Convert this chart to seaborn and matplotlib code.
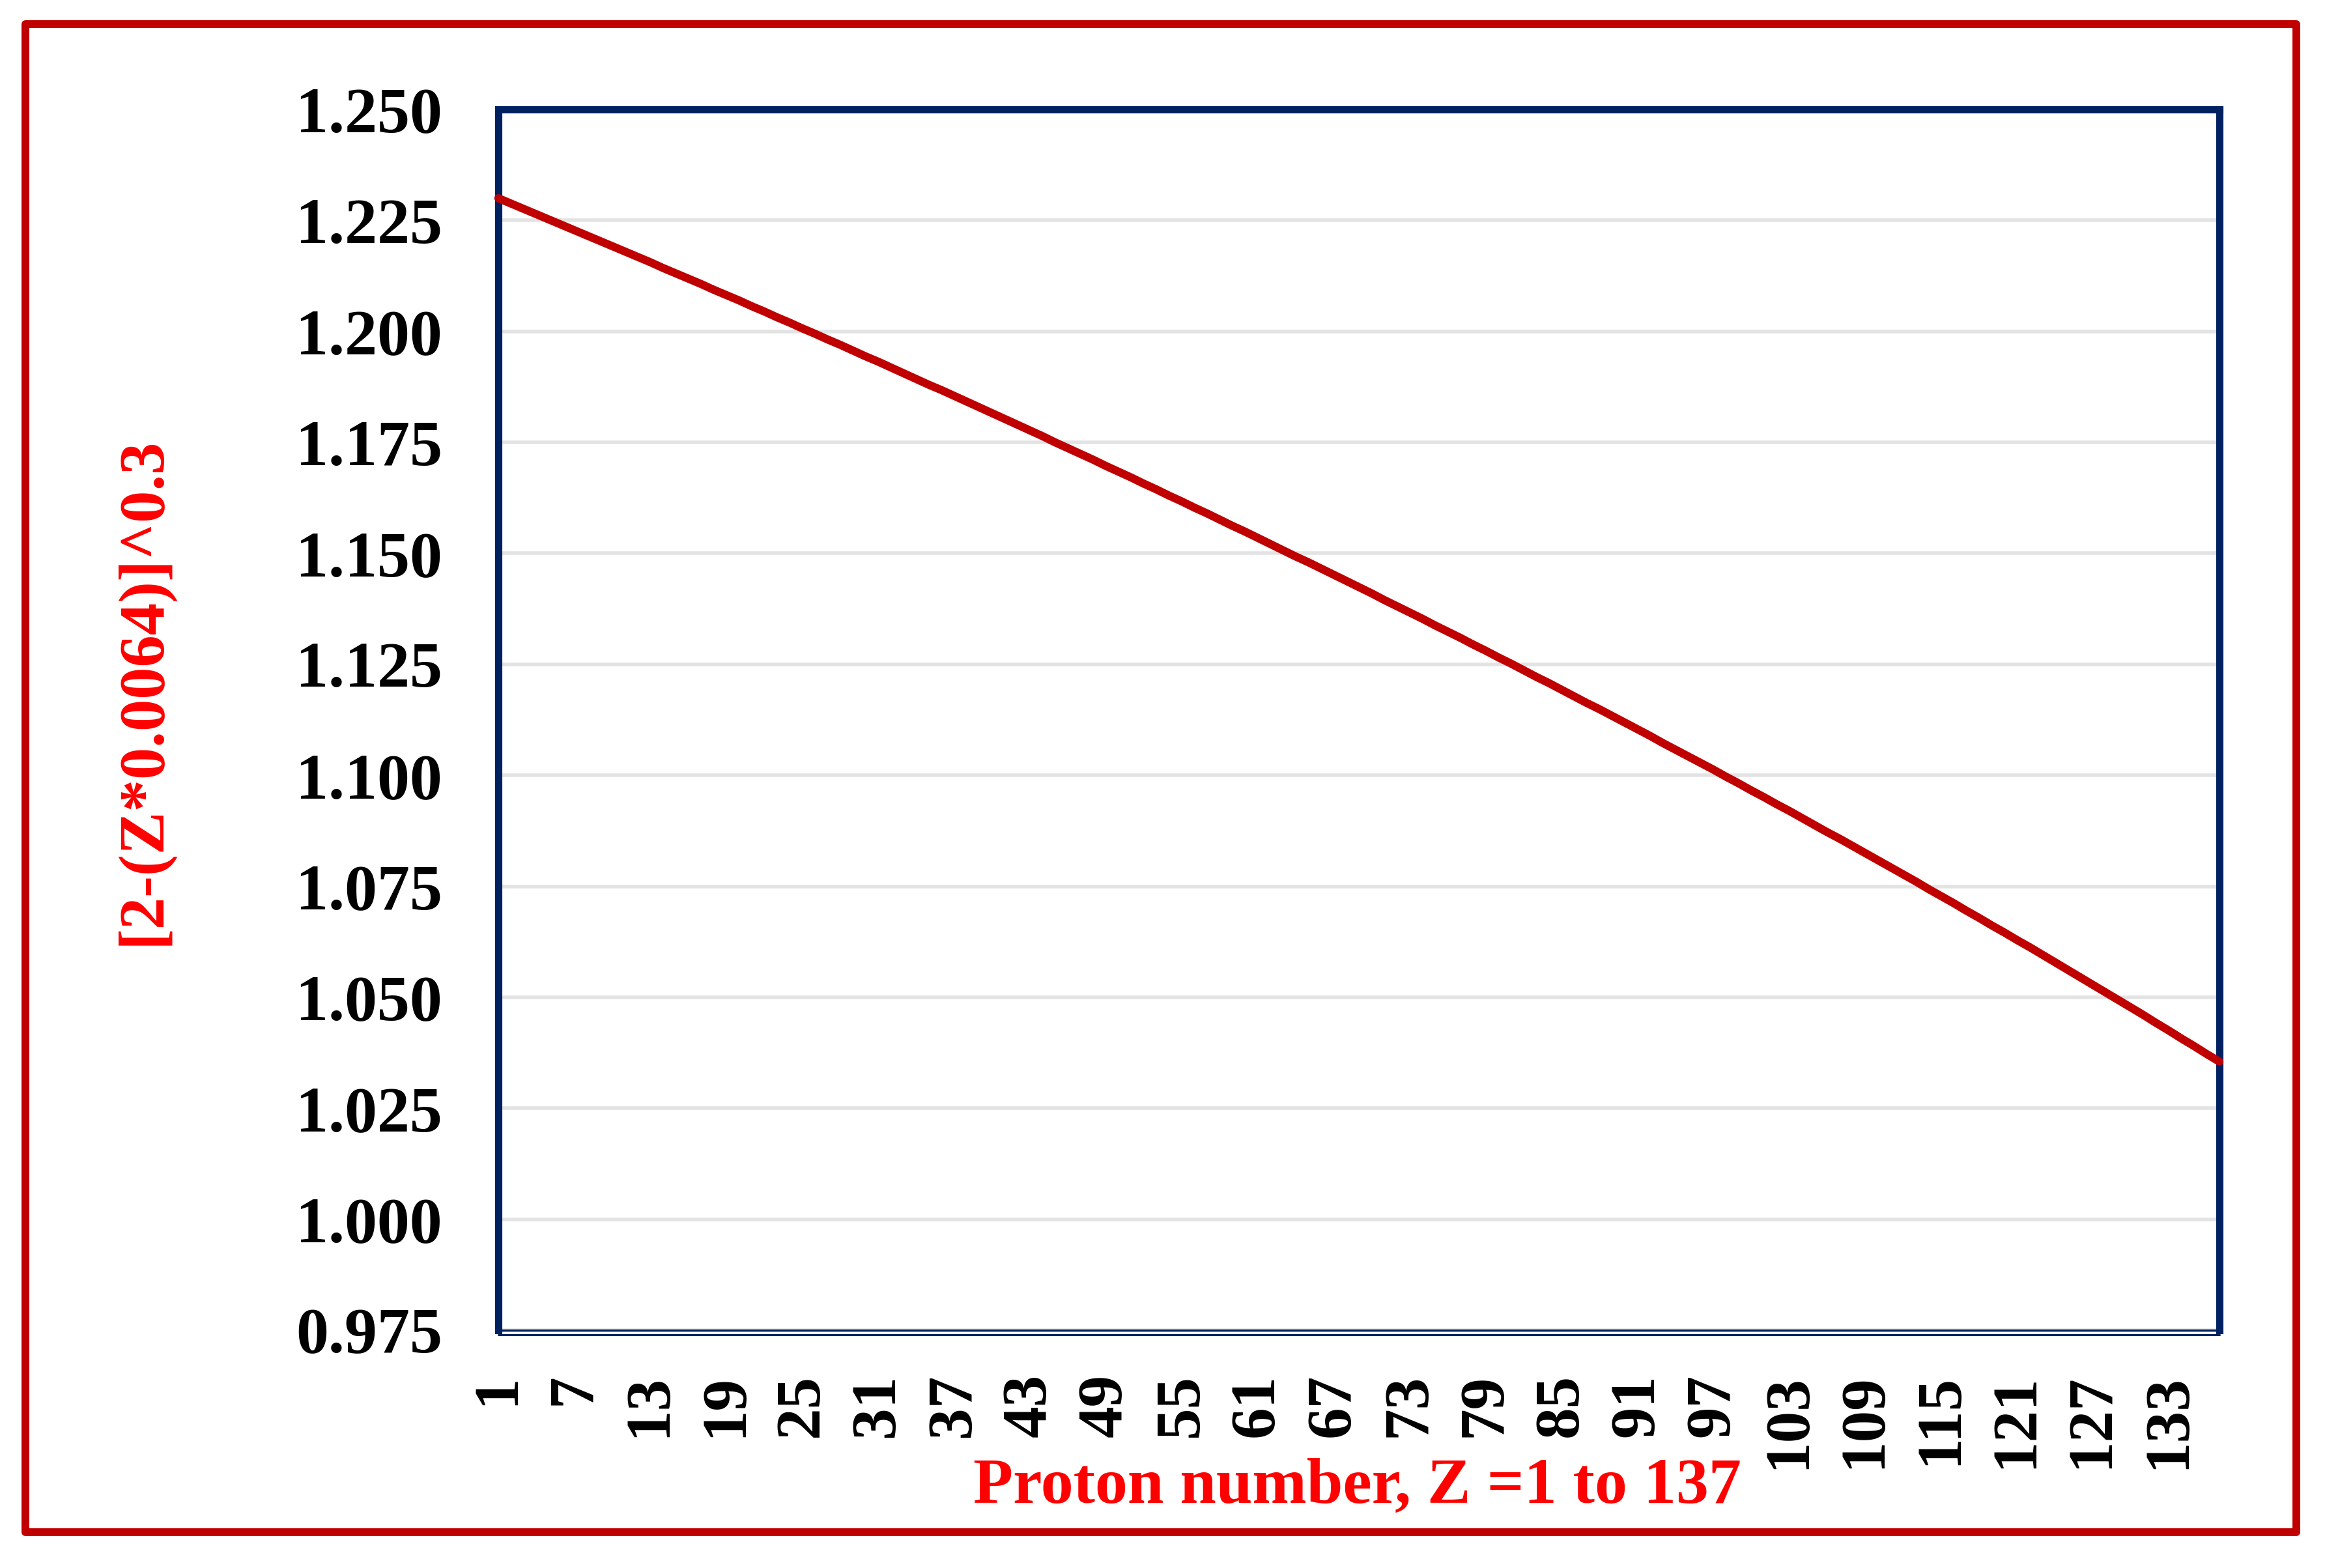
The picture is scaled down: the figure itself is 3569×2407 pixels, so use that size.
import matplotlib
matplotlib.use("Agg")
import matplotlib.pyplot as plt
import seaborn as sns
import pandas as pd
from matplotlib.lines import Line2D
from matplotlib.patches import Rectangle
from matplotlib.ticker import FormatStrFormatter, MultipleLocator

# proton number Z and the plotted value [2-(Z*0.0064)]^0.3
proton_number = list(range(1, 138))
factor = [
    1.2300, 1.2288, 1.2276, 1.2264, 1.2252, 1.2240, 1.2228, 1.2216, 1.2204, 1.2192,
    1.2180, 1.2168, 1.2156, 1.2143, 1.2131, 1.2119, 1.2107, 1.2094, 1.2082, 1.2070,
    1.2057, 1.2045, 1.2032, 1.2020, 1.2007, 1.1995, 1.1982, 1.1970, 1.1957, 1.1944,
    1.1932, 1.1919, 1.1906, 1.1893, 1.1880, 1.1868, 1.1855, 1.1842, 1.1829, 1.1816,
    1.1803, 1.1790, 1.1777, 1.1764, 1.1750, 1.1737, 1.1724, 1.1711, 1.1697, 1.1684,
    1.1671, 1.1657, 1.1644, 1.1630, 1.1617, 1.1603, 1.1590, 1.1576, 1.1562, 1.1549,
    1.1535, 1.1521, 1.1507, 1.1493, 1.1480, 1.1466, 1.1452, 1.1438, 1.1424, 1.1410,
    1.1395, 1.1381, 1.1367, 1.1353, 1.1338, 1.1324, 1.1310, 1.1295, 1.1281, 1.1266,
    1.1252, 1.1237, 1.1222, 1.1208, 1.1193, 1.1178, 1.1163, 1.1149, 1.1134, 1.1119,
    1.1104, 1.1089, 1.1073, 1.1058, 1.1043, 1.1028, 1.1013, 1.0997, 1.0982, 1.0966,
    1.0951, 1.0935, 1.0920, 1.0904, 1.0888, 1.0872, 1.0857, 1.0841, 1.0825, 1.0809,
    1.0793, 1.0777, 1.0761, 1.0744, 1.0728, 1.0712, 1.0695, 1.0679, 1.0662, 1.0646,
    1.0629, 1.0613, 1.0596, 1.0579, 1.0562, 1.0545, 1.0528, 1.0511, 1.0494, 1.0477,
    1.0460, 1.0442, 1.0425, 1.0407, 1.0390, 1.0372, 1.0355,
]
label_ticks = list(range(1, 138, 6))
y_label = "[2-(Z*0.0064)]^0.3"
x_label = "Proton number, Z =1 to 137"

df = pd.DataFrame({"Z": proton_number, "value": factor})

navy = "#002060"
dark_red = "#C00000"
W, H = 3569, 2407

sns.set_style("whitegrid")
plt.rcParams["font.family"] = ["Liberation Serif", "DejaVu Serif"]
plt.rcParams["font.weight"] = "bold"

fig = plt.figure(figsize=(W / 100, H / 100), dpi=100)
ax = fig.add_axes([765 / W, 1 - 2042 / H, (3407 - 765) / W, (2042 - 168) / H])

sns.lineplot(data=df, x="Z", y="value", ax=ax, color=dark_red, linewidth=9,
             solid_capstyle="round", clip_on=False, zorder=5)

ax.set_xlim(1, 137)
ax.set_ylim(0.975, 1.25)
ax.yaxis.set_major_locator(MultipleLocator(0.025))
ax.yaxis.set_major_formatter(FormatStrFormatter("%.3f"))
ax.set_xticks(proton_number)
ax.set_xticklabels([str(z) if z in label_ticks else "" for z in proton_number],
                   rotation=90, fontsize=70, fontweight="bold")
for t in ax.get_yticklabels():
    t.set_fontsize(72)
    t.set_fontweight("bold")
ax.tick_params(axis="y", length=0, pad=62, colors="black")
ax.tick_params(axis="x", length=22, width=4.5, color="#D6D6D6", direction="out",
               pad=26, labelcolor="black")
ax.set_xlabel("")
ax.set_ylabel("")

ax.grid(axis="y", color="#E3E3E3", linewidth=4)
ax.grid(axis="x", visible=False)
for side in ["left", "top", "right"]:
    ax.spines[side].set_color(navy)
    ax.spines[side].set_linewidth(8)
ax.spines["bottom"].set_color(navy)
ax.spines["bottom"].set_linewidth(2.5)

# thin navy axis line under the gray tick marks
fig.add_artist(Line2D([765 / W, 3407 / W], [1 - 2049 / H] * 2, color=navy,
                      linewidth=2.2, zorder=-1))

fig.text(220 / W, 1 - 1061 / H, y_label, rotation=90, color="#FF0000",
         fontsize=71, fontweight="bold", ha="center", va="center")
fig.text(2084 / W, 1 - 2283 / H, x_label, color="#FF0000",
         fontsize=72, fontweight="bold", ha="center", va="center")

# red frame around the whole chart
fig.add_artist(Rectangle((39 / W, 1 - 2352 / H), (3525 - 39) / W, (2352 - 37) / H,
                         transform=fig.transFigure, fill=False, edgecolor=dark_red,
                         linewidth=8.6, joinstyle="round"))

fig.savefig("out.png", dpi=100, facecolor="white")
